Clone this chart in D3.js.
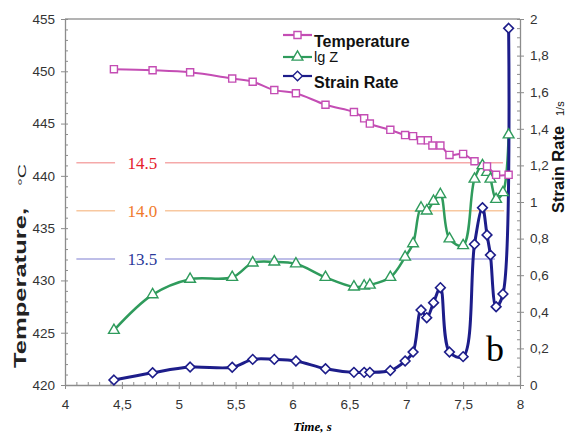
<!DOCTYPE html>
<html>
<head>
<meta charset="utf-8">
<script src="https://cdn.jsdelivr.net/npm/d3@7"></script>
<style>
  body { margin: 0; background: #fff; }
  svg { display: block; font-family: Arial, "Liberation Sans", sans-serif; }
</style>
</head>
<body>
<div id="chart"></div>
<script>
// series
var timeT = [4.43, 4.77, 5.1, 5.47, 5.65, 5.84, 6.03, 6.29, 6.54, 6.63, 6.68, 6.86, 6.99, 7.06, 7.13, 7.19, 7.23, 7.3, 7.38, 7.5, 7.6, 7.71, 7.79, 7.9];
var temperature = [450.2, 450.1, 449.9, 449.3, 449.0, 448.2, 447.9, 446.8, 446.1, 445.5, 445.0, 444.4, 443.9, 443.8, 443.4, 443.4, 442.9, 442.9, 442.0, 442.1, 441.4, 440.9, 440.1, 440.1];

var timeZ = [4.43, 4.77, 5.1, 5.47, 5.65, 5.84, 6.03, 6.29, 6.54, 6.63, 6.68, 6.86, 6.99, 7.06, 7.13, 7.18, 7.24, 7.3, 7.38, 7.5, 7.6, 7.67, 7.71, 7.74, 7.79, 7.85, 7.9];
var lgZ = [12.76, 13.13, 13.29, 13.31, 13.46, 13.47, 13.45, 13.31, 13.21, 13.22, 13.23, 13.31, 13.52, 13.66, 14.03, 14.0, 14.1, 14.17, 13.71, 13.64, 14.33, 14.47, 14.4, 14.33, 14.12, 14.19, 14.79];
var strainRate = [0.027, 0.067, 0.098, 0.097, 0.14, 0.14, 0.131, 0.089, 0.069, 0.069, 0.069, 0.079, 0.131, 0.18, 0.41, 0.368, 0.45, 0.532, 0.18, 0.155, 0.769, 0.969, 0.82, 0.71, 0.428, 0.497, 1.949];

// lg Z reference levels
var levels = [14.5, 14.0, 13.5];
var levelEnd = [7.85, 7.86, 7.78];

var legendNames = ["Temperature", "lg Z", "Strain Rate"];

var xTicks = [4, 4.5, 5, 5.5, 6, 6.5, 7, 7.5, 8];
var tempTicks = [420, 425, 430, 435, 440, 445, 450, 455];
var rateTicks = [0, 0.2, 0.4, 0.6, 0.8, 1, 1.2, 1.4, 1.6, 1.8, 2];

var svgWidth = 566, svgHeight = 435;
var margins = { top: 19, bottom: 50, left: 65, right: 46 };

var colTemp = "#c44db4", colZ = "#2f9b5c", colRate = "#1d1d8a";
var levelLine = ["#f5a9a9", "#f8c8a0", "#a8a8e0"];
var levelText = ["#e5202a", "#f07a2a", "#2a3a9a"];

var svg = d3.select("#chart").append("svg")
    .attr("width", svgWidth)
    .attr("height", svgHeight);

var x = d3.scaleLinear().domain([4, 8]).range([margins.left, svgWidth - margins.right]);
var yT = d3.scaleLinear().domain([420, 455]).range([svgHeight - margins.bottom, margins.top]);
var yS = d3.scaleLinear().domain([0, 2]).range([svgHeight - margins.bottom, margins.top]);
// lg Z drawn against the temperature frame
var yZ = d3.scaleLinear().domain([13.5, 14.5]).range([yT(432.05), yT(441.26)]);

var comma = d => (+d.toFixed(1)).toString().replace(".", ",");

// frame
svg.append("line").attr("x1", x(4)).attr("x2", x(8)).attr("y1", yT(455)).attr("y2", yT(455))
    .attr("stroke", "#9a9a9a").attr("stroke-width", 1.3);

// minor ticks
function minor(g) {
    g.select(".domain").remove();
    g.selectAll("text").remove();
    g.selectAll("line").attr("stroke", "#8c8c8c");
}
function major(g) {
    g.select(".domain").attr("stroke", "#8c8c8c").attr("stroke-width", 1.3);
    g.selectAll("line").attr("stroke", "#8c8c8c");
    g.selectAll("text").attr("fill", "#333").style("font-size", "13.5px");
}

var bottom = svgHeight - margins.bottom;
svg.append("g").attr("transform", `translate(0,${bottom})`)
    .call(d3.axisTop(x).ticks(40).tickSize(3).tickFormat("")).call(minor);
svg.append("g").attr("transform", `translate(0,${bottom})`)
    .call(d3.axisBottom(x).tickValues(xTicks).tickSize(4).tickSizeOuter(0).tickPadding(10).tickFormat(comma))
    .call(major);

svg.append("g").attr("transform", `translate(${margins.left},0)`)
    .call(d3.axisRight(yT).ticks(35).tickSize(3).tickFormat("")).call(minor);
svg.append("g").attr("transform", `translate(${margins.left},0)`)
    .call(d3.axisLeft(yT).tickValues(tempTicks).tickSize(4).tickSizeOuter(0).tickPadding(6))
    .call(major);

var right = svgWidth - margins.right;
svg.append("g").attr("transform", `translate(${right},0)`)
    .call(d3.axisLeft(yS).ticks(40).tickSize(3).tickFormat("")).call(minor);
svg.append("g").attr("transform", `translate(${right},0)`)
    .call(d3.axisRight(yS).tickValues(rateTicks).tickSize(4).tickSizeOuter(0).tickPadding(6).tickFormat(comma))
    .call(major);

// lg Z level lines with labels
levels.forEach(function(v, i) {
    svg.append("line")
        .attr("x1", x(4.1)).attr("x2", x(levelEnd[i]))
        .attr("y1", yZ(v)).attr("y2", yZ(v))
        .attr("stroke", levelLine[i]).attr("stroke-width", 1.5);
    svg.append("rect")
        .attr("x", x(4.44)).attr("y", yZ(v) - 11)
        .attr("width", 50).attr("height", 22)
        .attr("fill", "#fff");
    svg.append("text")
        .attr("x", x(4.68)).attr("y", yZ(v) + 6)
        .attr("text-anchor", "middle")
        .style("font-family", "'Liberation Serif', 'Times New Roman', serif")
        .style("font-size", "17px")
        .attr("fill", levelText[i])
        .text(v.toFixed(1));
});

var curve = d3.curveCatmullRom.alpha(0.5);

// lg Z
var zData = timeZ.map((t, i) => ({ t: t, v: lgZ[i] }));
svg.append("path").datum(zData)
    .attr("fill", "none").attr("stroke", colZ).attr("stroke-width", 2.5)
    .attr("d", d3.line().x(d => x(d.t)).y(d => yZ(d.v)).curve(curve));

// strain rate
var sData = timeZ.map((t, i) => ({ t: t, v: strainRate[i] }));
svg.append("path").datum(sData)
    .attr("fill", "none").attr("stroke", colRate).attr("stroke-width", 3)
    .attr("d", d3.line().x(d => x(d.t)).y(d => yS(d.v)).curve(curve));

// temperature
var tData = timeT.map((t, i) => ({ t: t, v: temperature[i] }));
svg.append("path").datum(tData)
    .attr("fill", "none").attr("stroke", colTemp).attr("stroke-width", 2)
    .attr("d", d3.line().x(d => x(d.t)).y(d => yT(d.v)).curve(curve));

var sq = d3.symbol().type(d3.symbolSquare).size(50);
var tri = d3.symbol().type(d3.symbolTriangle).size(50);
var dia = d3.symbol().type(d3.symbolDiamond2).size(60);

svg.selectAll(".zMark").data(zData).enter().append("path")
    .attr("class", "zMark")
    .attr("transform", d => `translate(${x(d.t)},${yZ(d.v)})`)
    .attr("d", tri).attr("fill", "#fff").attr("stroke", colZ).attr("stroke-width", 1.4);

svg.selectAll(".sMark").data(sData).enter().append("path")
    .attr("class", "sMark")
    .attr("transform", d => `translate(${x(d.t)},${yS(d.v)})`)
    .attr("d", dia).attr("fill", "#fff").attr("stroke", colRate).attr("stroke-width", 1.6);

svg.selectAll(".tMark").data(tData).enter().append("path")
    .attr("class", "tMark")
    .attr("transform", d => `translate(${x(d.t)},${yT(d.v)})`)
    .attr("d", sq).attr("fill", "#fff").attr("stroke", colTemp).attr("stroke-width", 1.4);

// legend
var legendY = [35, 57, 76];
var legendText = [47, 62, 88];
var legendCol = [colTemp, colZ, colRate];
var legendSym = [sq, tri, dia];
legendNames.forEach(function(name, i) {
    svg.append("line").attr("x1", 283).attr("x2", 312)
        .attr("y1", legendY[i]).attr("y2", legendY[i])
        .attr("stroke", legendCol[i]).attr("stroke-width", 2.2);
    svg.append("path").attr("transform", `translate(297.5,${legendY[i]})`)
        .attr("d", legendSym[i]).attr("fill", "#fff")
        .attr("stroke", legendCol[i]).attr("stroke-width", 1.4);
    svg.append("text").attr("x", 314).attr("y", legendText[i])
        .style("font-size", i == 1 ? "14.5px" : "16px")
        .style("font-weight", i == 1 ? "normal" : "bold")
        .attr("fill", "#111")
        .text(name);
});

// axis titles
svg.append("text")
    .attr("transform", "translate(26,368) rotate(-90)")
    .attr("textLength", 160).attr("lengthAdjust", "spacingAndGlyphs")
    .style("font-size", "16px").style("font-weight", "bold").attr("fill", "#222")
    .text("Temperature,");
svg.append("text")
    .attr("transform", "translate(26,186) rotate(-90)")
    .attr("textLength", 22).attr("lengthAdjust", "spacingAndGlyphs")
    .style("font-size", "11px").attr("fill", "#222")
    .text("°C");

svg.append("text")
    .attr("transform", "translate(564,213) rotate(-90)")
    .style("font-size", "16.5px").style("font-weight", "bold").attr("fill", "#111")
    .text("Strain Rate");
svg.append("text")
    .attr("transform", "translate(564,116) rotate(-90)")
    .style("font-size", "11px").attr("fill", "#111")
    .text("1/s");

svg.append("text")
    .attr("x", (x(4) + x(8)) / 2 + 20).attr("y", 431)
    .attr("text-anchor", "middle")
    .style("font-family", "'Liberation Serif', 'Times New Roman', serif")
    .style("font-size", "13px").style("font-weight", "bold").style("font-style", "italic")
    .text("Time, s");

svg.append("text")
    .attr("x", x(7.78)).attr("y", 361)
    .attr("text-anchor", "middle")
    .style("font-family", "'Liberation Serif', 'Times New Roman', serif")
    .style("font-size", "36px")
    .text("b");
</script>
</body>
</html>
